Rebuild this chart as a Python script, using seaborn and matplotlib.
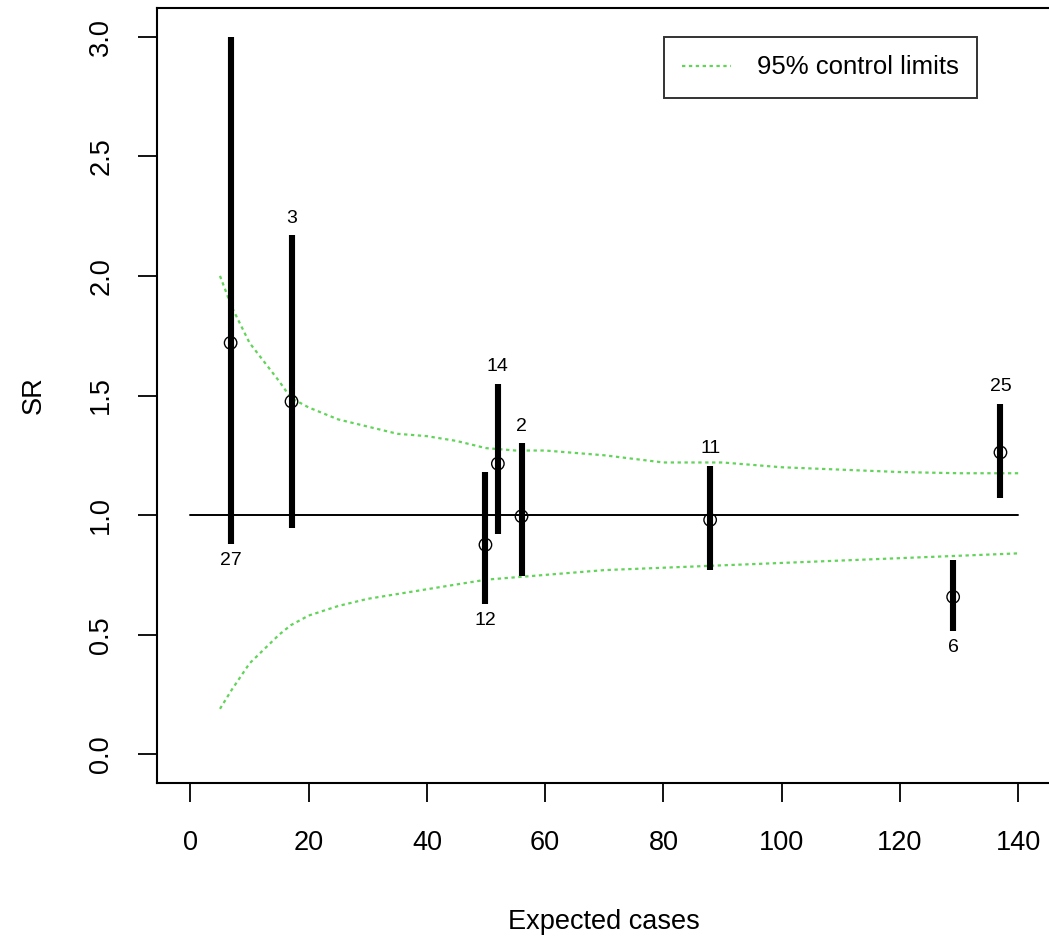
#!/usr/bin/env python3
import pandas as pd
import numpy as np
import matplotlib
matplotlib.use("Agg")
import matplotlib.pyplot as plt
import seaborn as sns

# units (label), expected cases, SR and its interval
labels = ["27", "3", "12", "14", "2", "11", "6", "25"]
expected = [6.8, 17.1, 49.9, 52.0, 56.0, 87.9, 129.0, 137.0]
sr = [1.72, 1.475, 0.876, 1.215, 0.995, 0.98, 0.658, 1.262]
sr_low = [0.88, 0.947, 0.628, 0.92, 0.746, 0.77, 0.515, 1.072]
sr_high = [3.0, 2.17, 1.18, 1.55, 1.30, 1.207, 0.813, 1.466]
label_above = [False, True, False, True, True, True, False, True]

# 95% control limits
lim_x = [5, 7, 10, 15, 17, 20, 25, 30, 35, 40, 45, 50, 55, 60, 65, 70, 80, 90, 100, 110, 120, 130, 140]
lim_upper = [2.0, 1.87, 1.72, 1.56, 1.49, 1.45, 1.40, 1.37, 1.34, 1.33, 1.31, 1.28, 1.27, 1.27,
             1.26, 1.25, 1.22, 1.22, 1.20, 1.19, 1.18, 1.175, 1.175]
lim_lower = [0.19, 0.27, 0.38, 0.50, 0.54, 0.58, 0.62, 0.65, 0.67, 0.69, 0.71, 0.73, 0.74, 0.75,
             0.76, 0.77, 0.78, 0.79, 0.80, 0.81, 0.82, 0.83, 0.84]

def main():
    sns.set_style("white")
    plt.rcParams['font.family'] = ['Liberation Sans', 'DejaVu Sans']
    plt.rcParams['text.color'] = 'black'
    plt.rcParams['axes.labelcolor'] = 'black'

    df = pd.DataFrame({"label": labels, "expected": expected, "sr": sr,
                       "low": sr_low, "high": sr_high, "above": label_above})
    lims = pd.DataFrame({"x": lim_x, "upper": lim_upper, "lower": lim_lower})

    fig = plt.figure(figsize=(10.49, 9.39), dpi=100)
    # box runs slightly past the right edge of the image, like the original
    ax = fig.add_axes([157.3 / 1049, 156 / 939, 894 / 1049, 775 / 939])

    green = "#62d45a"
    dots = (0, (1.5, 1.6))
    sns.lineplot(data=lims, x="x", y="upper", ax=ax, color=green, lw=1.6,
                 linestyle=dots, label="95% control limits")
    sns.lineplot(data=lims, x="x", y="lower", ax=ax, color=green, lw=1.6,
                 linestyle=dots, label="_nolegend_")

    ax.plot([0, 140], [1, 1], color="black", lw=1.4, zorder=2)

    ax.vlines(df["expected"], df["low"], df["high"], color="black", lw=4.4, zorder=3)
    sns.scatterplot(data=df, x="expected", y="sr", ax=ax, marker="o", s=80,
                    facecolor="none", edgecolor="black", linewidth=1.0, zorder=4)

    for _, r in df.iterrows():
        if r["above"]:
            ax.annotate(r["label"], (r["expected"], r["high"]), xytext=(0, 6),
                        textcoords="offset points", ha="center", va="bottom", fontsize=14)
        else:
            ax.annotate(r["label"], (r["expected"], r["low"]), xytext=(0, -6),
                        textcoords="offset points", ha="center", va="top", fontsize=14)

    ax.set_xlim(-5.6, 145.6)
    ax.set_ylim(-0.12, 3.12)
    ax.set_xticks(np.arange(0, 141, 20))
    ax.set_yticks(np.arange(0, 3.01, 0.5))
    ax.set_yticklabels([f"{v:.1f}" for v in np.arange(0, 3.01, 0.5)], rotation=90, va="center")
    ax.tick_params(axis="both", direction="out", length=14, width=1.3, labelsize=19.5,
                   colors="black", bottom=True, left=True)
    ax.tick_params(axis="x", pad=20)
    ax.tick_params(axis="y", pad=17)
    for s in ax.spines.values():
        s.set_color("black")
        s.set_linewidth(1.5)

    ax.set_xlabel("Expected cases", fontsize=19.5, labelpad=38)
    ax.set_ylabel("SR", fontsize=19.5, labelpad=30)

    leg = ax.legend(loc="upper right", bbox_to_anchor=((977 - 157.3) / 894, (783 - 37) / 775),
                    fontsize=18.5, frameon=True, fancybox=False, handlelength=1.9,
                    handletextpad=1.0, borderpad=0.72, borderaxespad=0)
    leg.get_frame().set_edgecolor("black")
    leg.get_frame().set_linewidth(1.4)

    fig.savefig("out.png", dpi=100)


if __name__ == "__main__":
    main()
